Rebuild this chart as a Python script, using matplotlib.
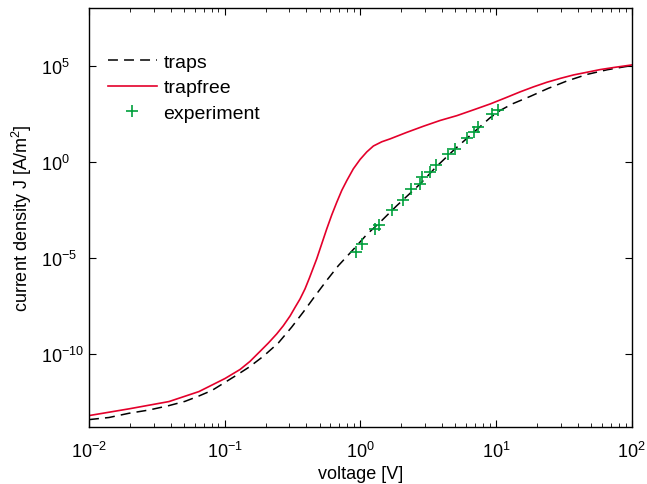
import numpy as np
import matplotlib
matplotlib.use('Agg')
import matplotlib.pyplot as plt
from matplotlib.ticker import LogLocator, NullLocator

# values, kept as log10 exponents
# trap-limited model (dashed black)
logv_traps = [-2.000, -1.853, -1.706, -1.558, -1.411, -1.293, -1.190, -1.094,
              -0.998, -0.909, -0.819, -0.715, -0.605, -0.506, -0.420, -0.334,
              -0.246, -0.162, -0.052, 0.047, 0.145, 0.268, 0.440, 0.558,
              0.698, 0.838, 0.956, 1.030, 1.119, 1.251, 1.384, 1.524, 1.672,
              1.819, 2.000]
logj_traps = [-13.42, -13.31, -13.09, -12.92, -12.69, -12.47, -12.19, -11.90,
              -11.48, -11.09, -10.68, -10.12, -9.43, -8.60, -7.81, -6.98,
              -6.15, -5.40, -4.56, -3.78, -3.14, -2.28, -1.15, -0.26,
              0.68, 1.56, 2.30, 2.68, 3.02, 3.41, 3.83, 4.22, 4.56,
              4.80, 5.02]

# trap-free model (red)
logv_free = [-2.000, -1.706, -1.411, -1.190, -0.998, -0.887, -0.814, -0.740,
             -0.678, -0.617, -0.568, -0.518, -0.482, -0.445, -0.408, -0.376,
             -0.322, -0.248, -0.211, -0.174, -0.137, -0.100, -0.052, -0.002,
             0.047, 0.096, 0.158, 0.219, 0.342, 0.465, 0.588, 0.711, 0.833,
             0.957, 1.067, 1.178, 1.276, 1.375, 1.473, 1.571, 1.670, 1.768,
             1.879, 2.000]
logj_free = [-13.21, -12.86, -12.48, -11.96, -11.28, -10.81, -10.39, -9.87,
             -9.43, -8.96, -8.53, -8.02, -7.58, -7.14, -6.61, -6.05,
             -5.05, -3.49, -2.76, -2.10, -1.48, -0.97, -0.36, 0.13,
             0.52, 0.83, 1.05, 1.20, 1.54, 1.86, 2.16, 2.41, 2.71,
             3.02, 3.33, 3.65, 3.91, 4.15, 4.35, 4.53, 4.67, 4.81,
             4.93, 5.05]

# measured points
v_exp = [0.93, 1.03, 1.28, 1.37, 1.71, 2.06, 2.37, 2.76, 2.85, 3.27, 3.61,
         4.43, 4.99, 6.12, 6.89, 7.32, 9.36, 10.36]
j_exp = [2.04e-5, 5.4e-5, 3.2e-4, 5.2e-4, 3.2e-3, 0.010, 0.037, 0.071, 0.155,
         0.30, 0.69, 2.45, 4.8, 17.8, 36, 63, 316, 537]

plt.rcParams['font.family'] = ['Liberation Sans', 'DejaVu Sans']
plt.rcParams['mathtext.fontset'] = 'custom'
plt.rcParams['mathtext.rm'] = 'Liberation Sans'
plt.rcParams['mathtext.it'] = 'Liberation Sans:italic'
plt.rcParams['font.size'] = 13

fig = plt.figure(figsize=(6.47, 4.85), dpi=100)
ax = fig.add_axes([0.1376, 0.1181, 0.9764 - 0.1376, 0.9808 - 0.1181])

ax.plot(10 ** np.array(logv_traps), 10 ** np.array(logj_traps), color='black',
        linestyle='--', dashes=(6.5, 4), linewidth=1.1, label='traps')
ax.plot(10 ** np.array(logv_free), 10 ** np.array(logj_free), color='#e4002b',
        linestyle='-', linewidth=1.2, label='trapfree')
ax.plot(v_exp, j_exp, color='#00a03c', linestyle='', marker='+',
        markersize=9, markeredgewidth=1.2, label='experiment')

ax.set_xscale('log')
ax.set_yscale('log')
ax.set_xlim(1e-2, 1e2)
ax.set_ylim(10 ** -13.79, 1e8)

ax.set_yticks([1e-10, 1e-5, 1e0, 1e5])
ax.yaxis.set_minor_locator(NullLocator())
ax.xaxis.set_major_locator(LogLocator(base=10, numticks=10))
ax.xaxis.set_minor_locator(LogLocator(base=10, subs=np.arange(2, 10), numticks=10))

ax.tick_params(which='both', direction='in', top=True, right=True)
ax.tick_params(which='major', length=5, width=0.8, labelsize=13)
ax.tick_params(which='minor', length=3, width=0.6)
ax.tick_params(axis='x', which='major', pad=10)
# matlab-style: the "10" bases of the y labels line up on the left
ax.tick_params(axis='y', which='major', pad=34.5)
for lab in ax.get_yticklabels():
    lab.set_horizontalalignment('left')
for s in ax.spines.values():
    s.set_linewidth(1.0)

ax.set_xlabel('voltage [V]', fontsize=13, labelpad=3)
ax.set_ylabel('current density J [A/m$^2$]', fontsize=13, labelpad=5)

ax.legend(loc='upper left', bbox_to_anchor=(0.035, 0.893), frameon=False,
          handlelength=2.5, handletextpad=0.35, labelspacing=0.42,
          borderpad=0, borderaxespad=0, fontsize=14)

fig.savefig('out.png', dpi=100)
